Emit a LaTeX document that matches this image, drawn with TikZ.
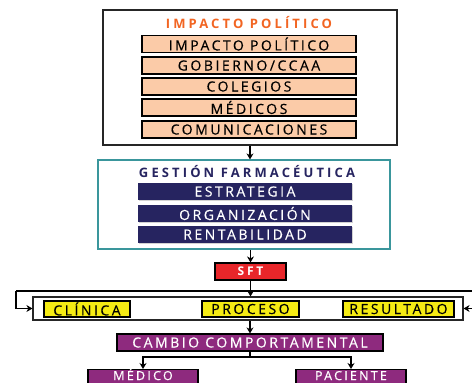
\documentclass[tikz,border=0pt]{standalone}
\usepackage{fontspec}
\setmainfont{Open Sans}
\newfontfamily\boxfont[LetterSpace=18,FakeBold=0.4]{Open Sans}
\newfontfamily\titlefont[LetterSpace=24]{Open Sans Bold}
\usetikzlibrary{arrows.meta,shadows}
\definecolor{tituloorange}{RGB}{242,101,34}
\definecolor{salmon}{RGB}{251,203,168}
\definecolor{navy}{RGB}{38,36,96}
\definecolor{bordeteal}{RGB}{58,150,156}
\definecolor{sftred}{RGB}{232,38,42}
\definecolor{amarillo}{RGB}{245,235,20}
\definecolor{morado}{RGB}{142,42,126}
\begin{document}
\begin{tikzpicture}[x=1pt,y=-1pt,
	caja/.style={draw=black,line width=1.2pt,minimum height=17pt,inner sep=0pt,
		font=\boxfont\fontsize{14}{14}\selectfont,
		drop shadow={shadow xshift=0.8pt,shadow yshift=-0.8pt,fill=gray!70}},
	marco/.style={draw=black!85,line width=1.2pt,inner sep=0pt,
		drop shadow={shadow xshift=0.8pt,shadow yshift=-0.8pt,fill=gray!70}},
	titulo/.style={font=\titlefont\fontsize{13}{13}\selectfont},
	abajo/.style={anchor=north,minimum height=0pt,inner ysep=0pt,text height=10.5pt,text depth=4.5pt,
		font=\boxfont\fontsize{12.5}{12.5}\selectfont},
	flecha/.style={line width=1.4pt,-{Stealth[length=6pt,width=7pt]}}]
	\useasboundingbox (0,0) rectangle (472,383);
	\clip (0,0) rectangle (472,383);
	
	% impacto politico
	\node[marco, fill=white, minimum width=294pt, minimum height=135pt] (impacto) at (250,77.5) {};
	\node[titulo, text=tituloorange] (titimpacto) at (249,23) {IMPACTO POLÍTICO};
	\node[caja, fill=salmon, minimum width=214pt] (impol) at (249,44) {IMPACTO POLÍTICO};
	\node[caja, fill=salmon, minimum width=214pt] (gobierno) at (249,65.5) {GOBIERNO/CCAA};
	\node[caja, fill=salmon, minimum width=214pt] (colegios) at (249,86.5) {COLEGIOS};
	\node[caja, fill=salmon, minimum width=214pt] (medicos) at (249,107.5) {MÉDICOS};
	\node[caja, fill=salmon, minimum width=214pt] (comunic) at (249,129.5) {COMUNICACIONES};
	
	% gestion farmaceutica
	\node[draw=bordeteal, line width=1.2pt, minimum width=292pt, minimum height=89pt] (gestion) at (244,204.5) {};
	\node[titulo, text=navy] (titgestion) at (247,172) {GESTIÓN FARMACÉUTICA};
	\node[caja, draw=none, fill=navy, text=white, minimum width=214pt] (estrategia) at (245,191.5) {ESTRATEGIA};
	\node[caja, draw=none, fill=navy, text=white, minimum width=214pt] (organiz) at (245,213.5) {ORGANIZACIÓN};
	\node[caja, draw=none, fill=navy, text=white, minimum width=214pt] (rentab) at (245,234.5) {RENTABILIDAD};
	
	\node[caja, fill=sftred, text=white, minimum width=71pt, font=\titlefont\fontsize{12}{12}\selectfont] (sft) at (250.5,271.5) {SFT};
	
	% clinica, proceso, resultado
	\node[marco, fill=white, minimum width=430pt, minimum height=23pt] (medio) at (248,308.5) {};
	\node[caja, fill=amarillo, minimum width=86pt, minimum height=16pt] (clinica) at (87,309) {CLÍNICA};
	\node[caja, fill=amarillo, minimum width=97pt, minimum height=16pt] (proceso) at (250.5,309) {PROCESO};
	\node[caja, fill=amarillo, minimum width=111pt, minimum height=16pt] (resultado) at (398.5,309) {RESULTADO};
	
	\node[caja, fill=morado, text=white, minimum width=266pt] (cambio) at (250,342.5) {CAMBIO COMPORTAMENTAL};
	\node[caja, abajo, fill=morado, text=white, minimum width=110pt] (medico) at (143,369) {MÉDICO};
	\node[caja, abajo, fill=morado, text=white, minimum width=110pt] (paciente) at (351,369) {PACIENTE};
	
	% flechas
	\draw[flecha] (impacto.south) -- (impacto.south |- gestion.north);
	\draw[flecha] (sft.north |- gestion.south) -- (sft.north);
	\draw[flecha] (sft.south) -- (sft.south |- medio.north);
	\coordinate (izq) at (16,291);
	\coordinate (der) at (475,291);
	\draw[line width=1.2pt] (izq) -- (der);
	\draw[flecha] (izq) |- (medio.west);
	\draw[flecha] (der) |- (medio.east);
	\draw[flecha] (cambio.north |- medio.south) -- (cambio.north);
	\coordinate (rama) at (250,357);
	\draw[line width=1.4pt] (cambio.south) -- (rama);
	\draw[flecha] (rama) -| (medico.north);
	\draw[flecha] (rama) -| (paciente.north);
\end{tikzpicture}
\end{document}
